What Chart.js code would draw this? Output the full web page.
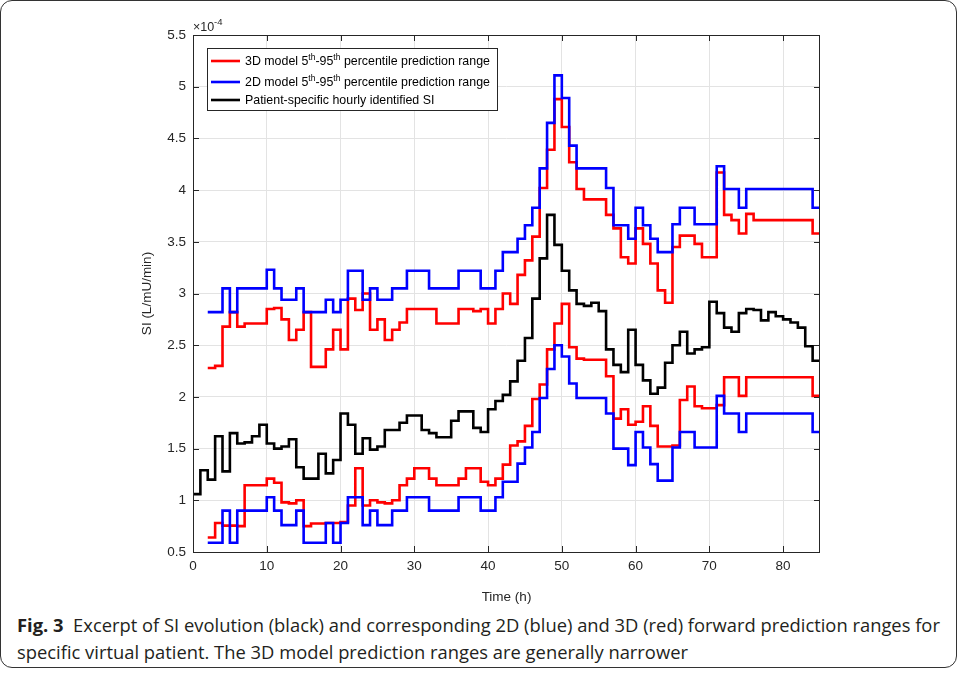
<!DOCTYPE html>
<html>
<head>
<meta charset="utf-8">
<script src="https://cdn.jsdelivr.net/npm/chart.js@4.4.0/dist/chart.umd.min.js"></script>
<style>
html, body { margin: 0; padding: 0; background: #fff; }
#frame { position: absolute; left: 0; top: 0; width: 955px; height: 666px; border: 1.5px solid #333; border-radius: 12px; }
#c { position: absolute; left: 0; top: 0; }
.cap { position: absolute; left: 17px; font-family: 'Liberation Sans Narrow', 'Open Sans', sans-serif; font-size: 18px; line-height: 22px; color: #231f20; white-space: nowrap; transform-origin: 0 0; }
</style>
</head>
<body>
<div id="frame"></div>
<canvas id="c" width="958" height="612"></canvas>
<div class="cap" id="cap1" style="top:614px"><b>Fig. 3</b>&nbsp; Excerpt of SI evolution (black) and corresponding 2D (blue) and 3D (red) forward prediction ranges for</div>
<div class="cap" id="cap2" style="top:641px">specific virtual patient. The 3D model prediction ranges are generally narrower</div>
<script>
// axes
const xTicks = [0, 10, 20, 30, 40, 50, 60, 70, 80];
const yTicks = [0.5, 1, 1.5, 2, 2.5, 3, 3.5, 4, 4.5, 5, 5.5];

// hourly SI (x1e-4), starts at hour 0
const siStart = 0;
const si = [1.06, 1.29, 1.20, 1.62, 1.28, 1.65, 1.55, 1.56, 1.62, 1.73,
  1.55, 1.50, 1.52, 1.59, 1.32, 1.21, 1.21, 1.45, 1.26, 1.39,
  1.84, 1.73, 1.45, 1.60, 1.49, 1.52, 1.68, 1.68, 1.75, 1.82,
  1.82, 1.68, 1.65, 1.61, 1.61, 1.77, 1.86, 1.86, 1.70, 1.66,
  1.88, 1.96, 2.02, 2.15, 2.35, 2.57, 2.95, 3.34, 3.76, 3.47,
  3.22, 3.03, 2.90, 2.88, 2.91, 2.83, 2.46, 2.31, 2.24, 2.65,
  2.31, 2.16, 2.03, 2.09, 2.33, 2.50, 2.63, 2.42, 2.46, 2.48,
  2.92, 2.81, 2.67, 2.63, 2.81, 2.85, 2.84, 2.74, 2.82, 2.78,
  2.75, 2.72, 2.67, 2.49, 2.35];

// prediction ranges, start at hour 2
const rangeStart = 2;
const upper3D = [2.28, 2.30, 2.68, 2.82, 2.68, 2.71, 2.71, 2.71,
  2.85, 2.86, 2.75, 2.55, 2.65, 2.82, 2.29, 2.29, 2.46, 2.65,
  2.46, 2.95, 2.84, 3.00, 2.65, 2.75, 2.55, 2.65, 2.72, 2.85,
  2.85, 2.85, 2.85, 2.71, 2.71, 2.71, 2.85, 2.85, 2.83, 2.85,
  2.71, 2.85, 3.00, 2.90, 3.18, 3.32, 3.55, 4.02, 4.39, 4.88,
  4.61, 4.27, 4.01, 3.91, 3.91, 3.91, 3.76, 3.63, 3.35, 3.29,
  3.63, 3.48, 3.29, 3.03, 2.91, 3.45, 3.56, 3.56, 3.48, 3.35,
  3.35, 4.17, 3.76, 3.71, 3.58, 3.77, 3.71, 3.71, 3.71, 3.71,
  3.71, 3.71, 3.71, 3.71, 3.58];
const lower3D = [0.64, 0.78, 0.755, 0.755, 0.75, 1.145, 1.145, 1.145,
  1.21, 1.17, 0.98, 0.97, 1.00, 0.75, 0.775, 0.775, 0.78, 0.78,
  0.79, 0.95, 1.31, 0.95, 1.00, 0.98, 0.97, 1.00, 1.145, 1.21,
  1.31, 1.31, 1.21, 1.145, 1.145, 1.145, 1.21, 1.31, 1.31, 1.18,
  1.145, 1.21, 1.345, 1.53, 1.57, 1.72, 1.98, 2.12, 2.46, 2.71,
  2.90, 2.48, 2.37, 2.36, 2.36, 2.36, 2.20, 1.79, 1.88, 1.73,
  1.76, 1.91, 1.72, 1.52, 1.52, 1.53, 1.97, 2.10, 1.91, 1.89,
  1.89, 1.92, 2.19, 2.19, 2.01, 2.19, 2.19, 2.19, 2.19, 2.19,
  2.19, 2.19, 2.19, 2.19, 2.01];
const upper2D = [2.82, 2.82, 3.05, 2.82, 3.05, 3.05, 3.05, 3.05,
  3.23, 3.05, 2.94, 2.94, 3.05, 2.82, 2.82, 2.82, 2.94, 2.82,
  2.94, 3.22, 3.22, 2.94, 3.05, 2.94, 2.94, 3.05, 3.05, 3.22,
  3.22, 3.22, 3.05, 3.05, 3.05, 3.05, 3.22, 3.22, 3.22, 3.05,
  3.05, 3.22, 3.40, 3.40, 3.53, 3.66, 3.83, 4.21, 4.65, 5.11,
  4.89, 4.43, 4.21, 4.21, 4.21, 4.21, 4.02, 3.66, 3.66, 3.53,
  3.83, 3.66, 3.53, 3.40, 3.40, 3.67, 3.83, 3.83, 3.67, 3.67,
  3.67, 4.23, 4.01, 4.01, 3.83, 4.01, 4.01, 4.01, 4.01, 4.01,
  4.01, 4.01, 4.01, 4.01, 3.83];
const lower2D = [0.59, 0.59, 0.90, 0.59, 0.90, 0.90, 0.90, 0.90,
  1.03, 0.90, 0.76, 0.76, 0.90, 0.59, 0.59, 0.59, 0.78, 0.59,
  0.78, 1.03, 1.03, 0.76, 0.90, 0.76, 0.76, 0.90, 0.90, 1.03,
  1.03, 1.03, 0.90, 0.90, 0.90, 0.90, 1.03, 1.03, 1.03, 0.90,
  0.90, 1.03, 1.18, 1.18, 1.355, 1.51, 1.66, 1.99, 2.27, 2.50,
  2.39, 2.13, 1.99, 1.99, 1.99, 1.99, 1.84, 1.50, 1.50, 1.34,
  1.66, 1.51, 1.35, 1.19, 1.19, 1.51, 1.66, 1.66, 1.51, 1.51,
  1.51, 2.01, 1.84, 1.84, 1.66, 1.84, 1.84, 1.84, 1.84, 1.84,
  1.84, 1.84, 1.84, 1.84, 1.66];

const RED = '#ff0000', BLUE = '#0000ff', BLACK = '#000000';
const AX = '#262626';
const FONT = "'Liberation Sans', Arial, sans-serif";

// one value per hour, held until the next hour
function steps(vals, start) {
  const pts = vals.map((v, i) => ({ x: start + i, y: v }));
  pts.push({ x: start + vals.length, y: vals[vals.length - 1] });
  return pts;
}

function line(data, color) {
  return { data: data, borderColor: color, borderWidth: 2.6, stepped: 'before', pointRadius: 0, fill: false, tension: 0 };
}

function richText(ctx, parts, x, y) {
  parts.forEach(p => {
    ctx.font = (p.sup ? '8.5px ' : '12.4px ') + FONT;
    ctx.fillText(p.t, x, p.sup ? y - 4 : y);
    x += ctx.measureText(p.t).width;
  });
}

const legendItems = [
  { color: RED, parts: [{ t: '3D model 5' }, { t: 'th', sup: true }, { t: '-95' }, { t: 'th', sup: true }, { t: ' percentile prediction range' }] },
  { color: BLUE, parts: [{ t: '2D model 5' }, { t: 'th', sup: true }, { t: '-95' }, { t: 'th', sup: true }, { t: ' percentile prediction range' }] },
  { color: BLACK, parts: [{ t: 'Patient-specific hourly identified SI' }] }
];

const matlabAxes = {
  id: 'matlabAxes',
  afterDatasetsDraw(chart) {
    const { ctx, chartArea: a, scales: { x, y } } = chart;
    ctx.save();
    // box and inward ticks
    ctx.strokeStyle = AX;
    ctx.lineWidth = 1;
    ctx.strokeRect(a.left + 0.5, a.top + 0.5, a.right - a.left - 1, a.bottom - a.top);
    ctx.beginPath();
    xTicks.forEach(v => {
      const px = Math.round(x.getPixelForValue(v)) + 0.5;
      ctx.moveTo(px, a.bottom); ctx.lineTo(px, a.bottom - 6);
      ctx.moveTo(px, a.top); ctx.lineTo(px, a.top + 6);
    });
    yTicks.forEach(v => {
      const py = Math.round(y.getPixelForValue(v)) + 0.5;
      ctx.moveTo(a.left, py); ctx.lineTo(a.left + 6, py);
      ctx.moveTo(a.right, py); ctx.lineTo(a.right - 6, py);
    });
    ctx.stroke();

    // legend
    ctx.fillStyle = '#fff';
    ctx.fillRect(207, 48, 290, 62);
    ctx.strokeRect(207.5, 48.5, 290, 62);
    const rows = [61, 82, 100];
    legendItems.forEach((it, i) => {
      ctx.strokeStyle = it.color;
      ctx.lineWidth = 2.6;
      ctx.beginPath();
      ctx.moveTo(211, rows[i]); ctx.lineTo(240, rows[i]);
      ctx.stroke();
      ctx.fillStyle = '#000';
      ctx.textBaseline = 'middle';
      ctx.textAlign = 'left';
      richText(ctx, it.parts, 245, rows[i] + 1);
    });

    // titles and exponent
    ctx.fillStyle = AX;
    ctx.textAlign = 'center';
    ctx.textBaseline = 'middle';
    ctx.font = '13.5px ' + FONT;
    ctx.fillText('Time (h)', (a.left + a.right) / 2, 597);
    ctx.save();
    ctx.translate(147, (a.top + a.bottom) / 2);
    ctx.rotate(-Math.PI / 2);
    ctx.fillText('SI (L/mU/min)', 0, 0);
    ctx.restore();
    ctx.textAlign = 'left';
    ctx.textBaseline = 'alphabetic';
    ctx.font = '12.5px ' + FONT;
    ctx.fillText('\u00d710', 193, 31);
    ctx.font = '9.5px ' + FONT;
    ctx.fillText('-4', 214, 25);
    ctx.restore();
  }
};

new Chart(document.getElementById('c').getContext('2d'), {
  type: 'line',
  data: {
    datasets: [
      line(steps(si, siStart), BLACK),
      line(steps(upper2D, rangeStart), BLUE),
      line(steps(lower2D, rangeStart), BLUE),
      line(steps(upper3D, rangeStart), RED),
      line(steps(lower3D, rangeStart), RED)
    ]
  },
  options: {
    responsive: false,
    animation: false,
    layout: { padding: { left: 153, right: 138, top: 35, bottom: 12 } },
    plugins: { legend: { display: false }, tooltip: { enabled: false } },
    scales: {
      x: {
        type: 'linear', min: 0, max: 85,
        afterBuildTicks: s => { s.ticks = xTicks.map(v => ({ value: v })); },
        afterFit: s => { s.height = 48; },
        grid: { color: '#e3e3e3', drawTicks: false },
        border: { display: false },
        ticks: { padding: 6, color: AX, font: { family: FONT, size: 13.5 }, callback: v => String(v) }
      },
      y: {
        type: 'linear', min: 0.5, max: 5.5,
        afterBuildTicks: s => { s.ticks = yTicks.map(v => ({ value: v })); },
        afterFit: s => { s.width = 40; },
        grid: { color: '#e3e3e3', drawTicks: false },
        border: { display: false },
        ticks: { padding: 7, color: AX, font: { family: FONT, size: 13.5 }, callback: v => String(v) }
      }
    }
  },
  plugins: [matlabAxes]
});

// caption: fit first line to the frame width
const cap1 = document.getElementById('cap1');
const cap2 = document.getElementById('cap2');
const k = 923 / cap1.scrollWidth;
cap1.style.transform = cap2.style.transform = 'scaleX(' + k + ')';
</script>
</body>
</html>
